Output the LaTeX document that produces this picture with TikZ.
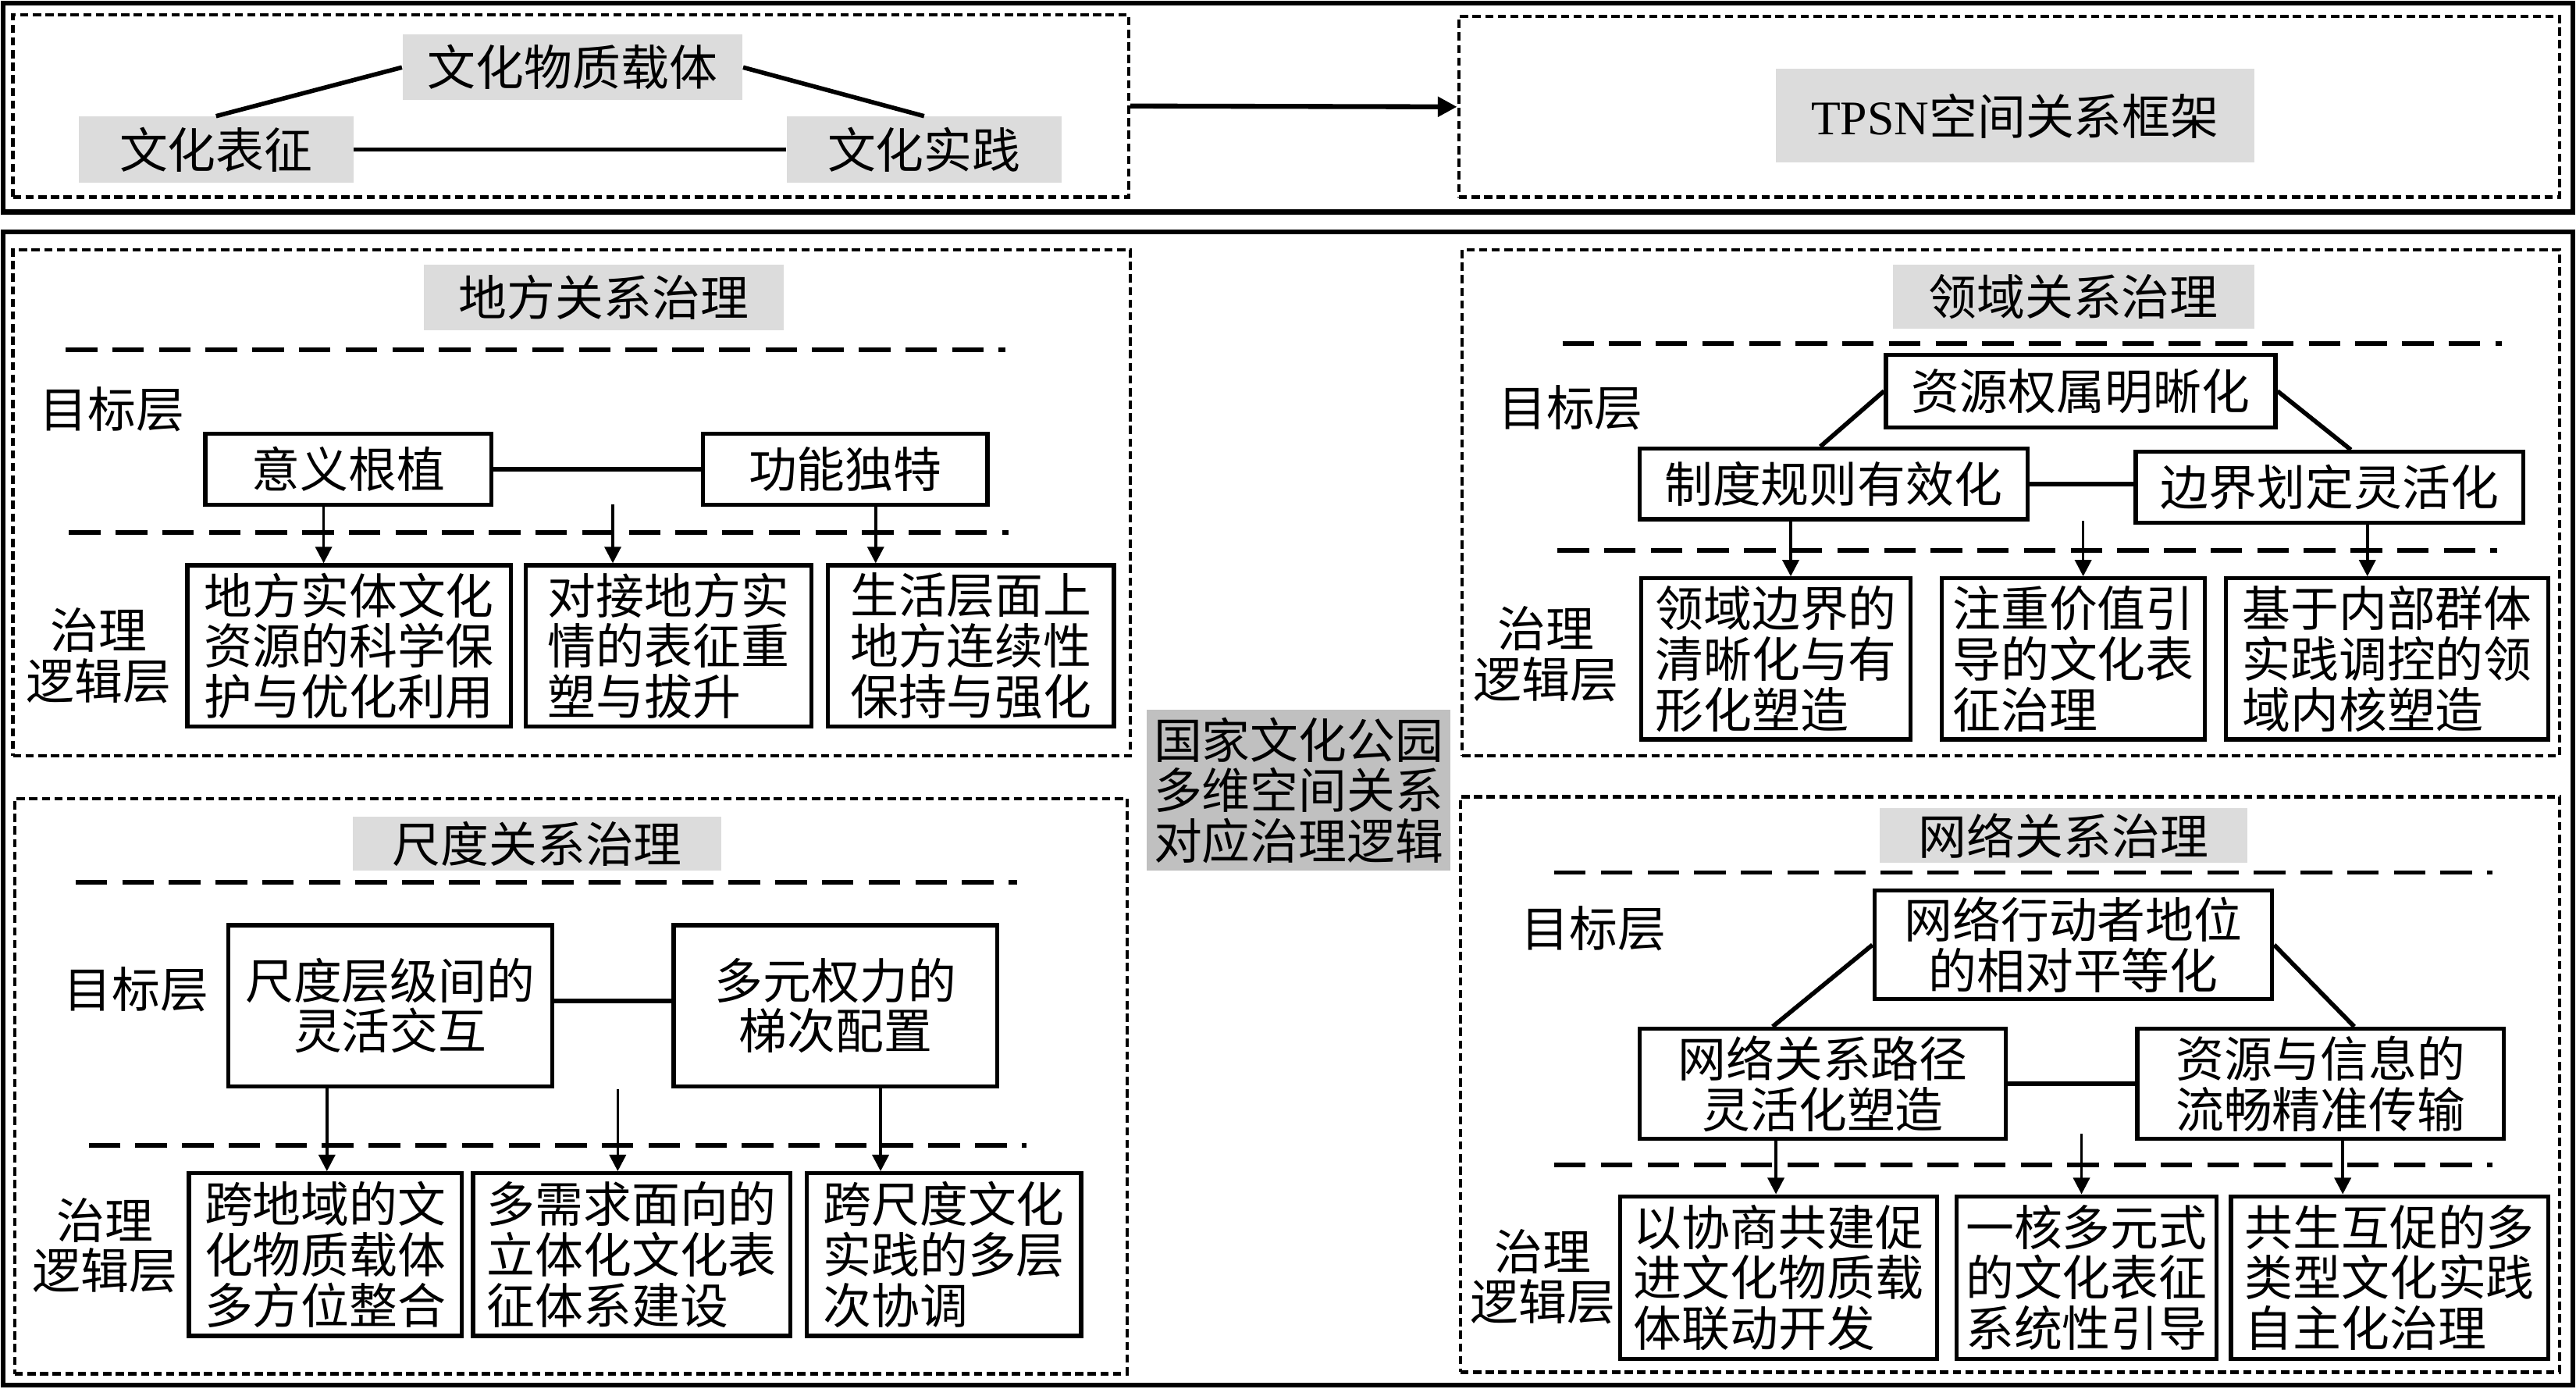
\documentclass[tikz,border=0pt]{standalone}
\usepackage{fontspec}
\setmainfont{Noto Sans CJK SC}
\newfontfamily\tnr{Liberation Serif}
\usetikzlibrary{arrows.meta}
\definecolor{lgray}{RGB}{220,220,220}
\definecolor{mgray}{RGB}{192,192,192}
\begin{document}
\begin{tikzpicture}[x=0.021046cm,y=-0.021046cm,
  every node/.style={font=\fontsize{17.6pt}{18.4pt}\selectfont},
  bx/.style n args={4}{minimum width={(#3-#1)*0.59876pt}, minimum height={(#4-#2)*0.59876pt}, at={({(#1+#3)/2},{(#2+#4)/2})}, anchor=center},
  tbox/.style={draw, line width=1.5pt, inner sep=0pt, align=left},
  cbox/.style={draw, line width=1.5pt, inner sep=0pt, align=center},
  gbox/.style={fill=lgray, inner sep=0pt, align=center},
  dbox/.style={draw, line width=1.3pt, dash pattern=on 3pt off 1.6pt, inner sep=0pt},
  frame/.style={draw, line width=1.8pt, inner sep=0pt},
  sepline/.style={line width=1.6pt, dash pattern=on 11.5pt off 5.5pt},
  arr/.style={line width=1pt, -{Triangle[length=6pt,width=6pt]}},
  bigarr/.style={line width=1.8pt, -{Triangle[length=7pt,width=7pt]}},
  lnk/.style={line width=1.6pt},
  lbl/.style={inner sep=0pt, align=center}]
\useasboundingbox (0,0) rectangle (1568,845);

% ---------- top section ----------
\node[frame, bx={2}{2}{1566}{129}] (topframe) {};
\node[dbox, bx={8}{9}{687}{120}] (tl) {};
\node[dbox, bx={888}{10}{1558}{120}] (tr) {};
\node[gbox, bx={245}{21}{452}{61}] (wzzt) {文化物质载体};
\node[gbox, bx={48}{71}{215}{111}] (wbz) {文化表征};
\node[gbox, bx={479}{71}{646}{111}] (wsj) {文化实践};
\node[gbox, bx={1081}{42}{1372}{99}] (tpsn) {{\tnr TPSN}空间关系框架};
\draw[lnk] (wzzt.west) -- (wbz.north);
\draw[lnk] (wzzt.east) -- (wsj.north);
\draw[lnk] (wbz.east) -- (wsj.west);
\draw[bigarr] (tl.east) -- (tr.west);

% ---------- bottom frame ----------
\node[frame, bx={2}{141}{1566}{843}] (botframe) {};
\node[dbox, bx={8}{152}{688}{460}] (dl1) {};
\node[dbox, bx={890}{152}{1558}{460}] (dr1) {};
\node[dbox, bx={9}{486}{686}{836}] (dl2) {};
\node[dbox, bx={889}{485}{1558}{835}] (dr2) {};
\node[inner sep=0pt, fill=mgray, align=center, bx={698}{432}{883}{530}] (center) {国家文化公园\\多维空间关系\\对应治理逻辑};

% ---------- 地方关系治理 ----------
\node[gbox, bx={258}{161}{477}{201}] (dfT) {地方关系治理};
\coordinate (dfs1a) at (40,213); \coordinate (dfs1b) at (612,213);
\draw[sepline] (dfs1a) -- (dfs1b);
\node[lbl] (dfG) at (68,249) {目标层};
\node[cbox, bx={125}{264}{299}{307}] (ygz) {意义根植};
\node[cbox, bx={428}{264}{601}{307}] (gndt) {功能独特};
\draw[lnk] (ygz.east) -- (gndt.west);
\coordinate (dfs2a) at (42,324); \coordinate (dfs2b) at (614,324);
\draw[sepline] (dfs2a) -- (dfs2b);
\node[tbox, bx={114}{344}{311}{442}] (dfb1) {地方实体文化\\资源的科学保\\护与优化利用};
\node[tbox, bx={320}{344}{494}{442}] (dfb2) {对接地方实\\情的表征重\\塑与拔升};
\node[tbox, bx={504}{344}{678}{442}] (dfb3) {生活层面上\\地方连续性\\保持与强化};
\coordinate (dfm) at (373,307);
\draw[arr] (ygz.south -| 197,0) -- (dfb1.north -| 197,0);
\draw[arr] (dfm) -- (dfb2.north -| dfm);
\draw[arr] (gndt.south -| 533,0) -- (dfb3.north -| 533,0);
\node[lbl] (dfL) at (60,399) {治理\\逻辑层};

% ---------- 领域关系治理 ----------
\node[gbox, bx={1152}{161}{1372}{200}] (lyT) {领域关系治理};
\coordinate (lys1a) at (951,209); \coordinate (lys1b) at (1523,209);
\draw[sepline] (lys1a) -- (lys1b);
\node[lbl] (lyG) at (956,248) {目标层};
\node[cbox, bx={1148}{216}{1385}{260}] (zy) {资源权属明晰化};
\node[cbox, bx={998}{273}{1234}{316}] (zd) {制度规则有效化};
\node[cbox, bx={1300}{275}{1536}{318}] (bj) {边界划定灵活化};
\draw[lnk] (zy.west) -- (zd.north -| 1108,0);
\draw[lnk] (zy.east) -- (bj.north -| 1431,0);
\draw[lnk] (zd.east) -- (zd.east -| bj.west);
\coordinate (lys2a) at (948,335); \coordinate (lys2b) at (1520,335);
\draw[sepline] (lys2a) -- (lys2b);
\node[tbox, bx={999}{352}{1163}{450}] (lyb1) {领域边界的\\清晰化与有\\形化塑造};
\node[tbox, bx={1182}{352}{1342}{450}] (lyb2) {注重价值引\\导的文化表\\征治理};
\node[tbox, bx={1355}{352}{1551}{450}] (lyb3) {基于内部群体\\实践调控的领\\域内核塑造};
\coordinate (lym) at (1268,317);
\draw[arr] (zd.south -| 1090,0) -- (lyb1.north -| 1090,0);
\draw[arr] (lym) -- (lyb2.north -| lym);
\draw[arr] (bj.south -| 1441,0) -- (lyb3.north -| 1441,0);
\node[lbl] (lyL) at (941,398) {治理\\逻辑层};

% ---------- 尺度关系治理 ----------
\node[gbox, bx={215}{497}{439}{530}] (cdT) {尺度关系治理};
\coordinate (cds1a) at (46,537); \coordinate (cds1b) at (619,537);
\draw[sepline] (cds1a) -- (cds1b);
\node[lbl] (cdG) at (83,602) {目标层};
\node[cbox, bx={139}{563}{336}{661}] (cd1) {尺度层级间的\\灵活交互};
\node[cbox, bx={410}{563}{607}{661}] (cd2) {多元权力的\\梯次配置};
\draw[lnk] (cd1.east |- 0,609) -- (cd2.west |- 0,609);
\coordinate (cds2a) at (54,697); \coordinate (cds2b) at (625,697);
\draw[sepline] (cds2a) -- (cds2b);
\node[tbox, bx={115}{714}{281}{813}] (cdb1) {跨地域的文\\化物质载体\\多方位整合};
\node[tbox, bx={288}{714}{481}{813}] (cdb2) {多需求面向的\\立体化文化表\\征体系建设};
\node[tbox, bx={491}{714}{658}{813}] (cdb3) {跨尺度文化\\实践的多层\\次协调};
\coordinate (cdm) at (376,663);
\draw[arr] (cd1.south -| 199,0) -- (cdb1.north -| 199,0);
\draw[arr] (cdm) -- (cdb2.north -| cdm);
\draw[arr] (cd2.south -| 536,0) -- (cdb3.north -| 536,0);
\node[lbl] (cdL) at (64,758) {治理\\逻辑层};

% ---------- 网络关系治理 ----------
\node[gbox, bx={1144}{492}{1368}{525}] (wlT) {网络关系治理};
\coordinate (wls1a) at (946,531); \coordinate (wls1b) at (1517,531);
\draw[sepline] (wls1a) -- (wls1b);
\node[lbl] (wlG) at (970,565) {目标层};
\node[cbox, bx={1141}{542}{1383}{608}] (wl1) {网络行动者地位\\的相对平等化};
\node[cbox, bx={998}{626}{1221}{693}] (wl2) {网络关系路径\\灵活化塑造};
\node[cbox, bx={1301}{626}{1524}{693}] (wl3) {资源与信息的\\流畅精准传输};
\draw[lnk] (wl1.west) -- (wl2.north -| 1079,0);
\draw[lnk] (wl1.east) -- (wl3.north -| 1433,0);
\draw[lnk] (wl2.east) -- (wl3.west);
\coordinate (wls2a) at (946,709); \coordinate (wls2b) at (1517,709);
\draw[sepline] (wls2a) -- (wls2b);
\node[tbox, bx={986}{728}{1179}{827}] (wlb1) {以协商共建促\\进文化物质载\\体联动开发};
\node[tbox, bx={1191}{728}{1349}{827}] (wlb2) {一核多元式\\的文化表征\\系统性引导};
\node[tbox, bx={1358}{728}{1551}{827}] (wlb3) {共生互促的多\\类型文化实践\\自主化治理};
\coordinate (wlm) at (1267,690);
\draw[arr] (wl2.south -| 1081,0) -- (wlb1.north -| 1081,0);
\draw[arr] (wlm) -- (wlb2.north -| wlm);
\draw[arr] (wl3.south -| 1426,0) -- (wlb3.north -| 1426,0);
\node[lbl] (wlL) at (939,777) {治理\\逻辑层};
\end{tikzpicture}
\end{document}
